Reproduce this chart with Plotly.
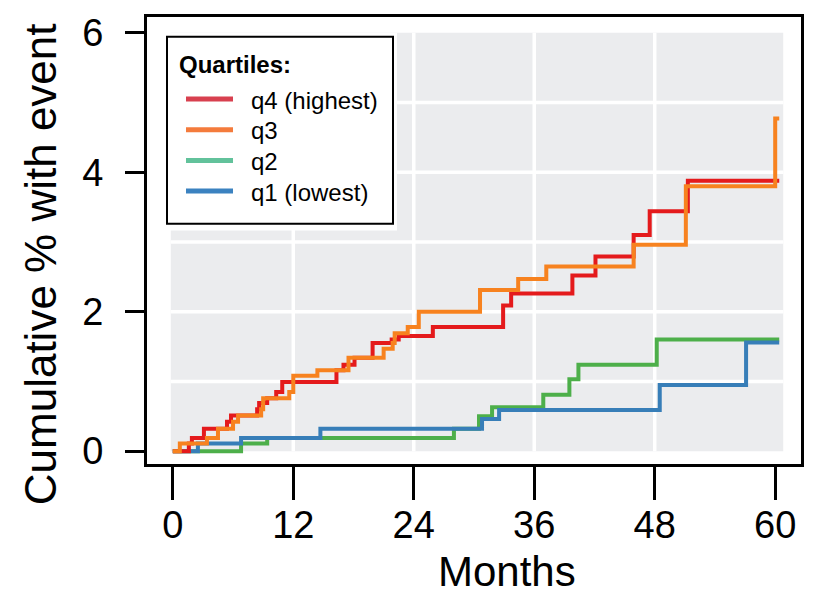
import plotly.graph_objects as go

# Cumulative incidence (%) by quartile, step functions over follow-up months
q4_months = [0, 1.6, 1.9, 3.1, 5.4, 5.8, 8.4, 8.6, 9.4, 10.3, 10.9, 16.3, 17.0, 18.1, 19.9,
             21.8, 22.5, 25.9, 32.9, 33.7, 39.8, 42.1, 45.9, 47.5, 51.3, 60.4]
q4_pct = [0, 0.11, 0.19, 0.32, 0.42, 0.51, 0.60, 0.69, 0.76, 0.85, 0.99, 1.16, 1.24, 1.34, 1.55,
          1.60, 1.65, 1.78, 2.09, 2.26, 2.52, 2.79, 3.10, 3.44, 3.88, 3.88]

q3_months = [0, 0.7, 3.4, 4.5, 6.0, 6.5, 8.8, 9.0, 11.6, 12.0, 14.4, 17.5, 21.0, 21.9, 22.1,
             23.4, 24.5, 30.6, 34.4, 37.2, 45.9, 51.1, 60.0, 60.4]
q3_pct = [0, 0.11, 0.19, 0.32, 0.42, 0.51, 0.60, 0.76, 0.85, 1.08, 1.16, 1.34, 1.47, 1.55, 1.69,
          1.78, 2.00, 2.31, 2.47, 2.65, 2.96, 3.80, 4.77, 4.77]

q2_months = [0, 6.8, 9.4, 28.0, 30.5, 31.8, 36.9, 39.5, 40.4, 48.2, 60.4]
q2_pct = [0, 0.11, 0.19, 0.32, 0.50, 0.63, 0.81, 1.03, 1.24, 1.60, 1.60]

q1_months = [0, 2.5, 6.8, 14.7, 30.8, 32.5, 48.5, 57.1, 60.4]
q1_pct = [0, 0.11, 0.19, 0.32, 0.46, 0.59, 0.95, 1.56, 1.56]

legend_labels = ["q4 (highest)", "q3", "q2", "q1 (lowest)"]
legend_title = "Quartiles:"
x_ticks = [0, 12, 24, 36, 48, 60]
y_ticks = [0, 2, 4, 6]
x_grid = [12, 24, 36, 48]
y_grid = [1, 2, 3, 4, 5]

line_colors = {"q4": "#E41A1C", "q3": "#F7821F", "q2": "#4DAF4A", "q1": "#377EB8"}
key_colors = ["#D8404F", "#F47B3C", "#62C29B", "#3B82C0"]

FONT = "Liberation Sans, Arial, sans-serif"
W, H = 817, 594
L, R, T, B = 147, 801, 12, 464


def px(x):
    return (x - L) / (R - L)


def py(y):
    return (B - y) / (B - T)


fig = go.Figure()

series = [
    ("q2", q2_months, q2_pct),
    ("q1", q1_months, q1_pct),
    ("q4", q4_months, q4_pct),
    ("q3", q3_months, q3_pct),
]
for name, xs, ys in series:
    fig.add_trace(go.Scatter(
        x=xs, y=ys, mode="lines", line=dict(color=line_colors[name], width=4, shape="hv"),
        showlegend=False, hoverinfo="skip",
    ))

shapes = []
# grey panel with white grid
shapes.append(dict(type="rect", xref="x", yref="y", x0=-0.2, x1=60.8, y0=0, y1=6,
                   fillcolor="#EBECEE", line=dict(width=0), layer="below"))
for gx in x_grid:
    shapes.append(dict(type="line", xref="x", yref="y", x0=gx, x1=gx, y0=0, y1=6,
                       line=dict(color="white", width=3.5), layer="below"))
for gy in y_grid:
    shapes.append(dict(type="line", xref="x", yref="y", x0=-0.2, x1=60.8, y0=gy, y1=gy,
                       line=dict(color="white", width=3.5), layer="below"))

# legend box
shapes.append(dict(type="rect", xref="paper", yref="paper", x0=px(163), x1=px(397),
                   y0=py(228), y1=py(28), fillcolor="white", line=dict(width=0), layer="above"))
shapes.append(dict(type="rect", xref="paper", yref="paper", x0=px(167), x1=px(393),
                   y0=py(221), y1=py(32), fillcolor="white",
                   line=dict(color="black", width=2), layer="above"))

annotations = [
    dict(text="<b>" + legend_title + "</b>", xref="paper", yref="paper", x=px(177), y=py(60),
         xanchor="left", yanchor="middle", showarrow=False,
         font=dict(family=FONT, size=24, color="black")),
]
entry_y = [95, 126, 157, 188]
for lbl, c, ey in zip(legend_labels, key_colors, entry_y):
    shapes.append(dict(type="line", xref="paper", yref="paper", x0=px(186), x1=px(233),
                       y0=py(ey), y1=py(ey), line=dict(color=c, width=5), layer="above"))
    annotations.append(dict(text=lbl, xref="paper", yref="paper", x=px(249), y=py(ey + 1),
                            xanchor="left", yanchor="middle", showarrow=False,
                            font=dict(family=FONT, size=24, color="black")))

# axis titles
annotations.append(dict(text="Months", xref="paper", yref="paper", x=px(507), y=py(598),
                        xanchor="center", yanchor="bottom", showarrow=False,
                        font=dict(family=FONT, size=42, color="black")))
annotations.append(dict(text="Cumulative % with event", xref="paper", yref="paper",
                        x=px(40), y=py(262), xanchor="center", yanchor="middle",
                        textangle=-90, showarrow=False,
                        font=dict(family=FONT, size=44, color="black")))

fig.update_layout(
    width=W, height=H,
    margin=dict(l=L, r=W - R, t=T, b=H - B, pad=0),
    paper_bgcolor="white", plot_bgcolor="white",
    shapes=shapes, annotations=annotations,
    font=dict(family=FONT, color="black"),
    showlegend=False,
)
fig.update_xaxes(
    range=[(L - 172.8) / 10.04, (R - 172.8) / 10.04],
    tickmode="array", tickvals=x_ticks, ticktext=[str(v) for v in x_ticks],
    ticks="outside", ticklen=33, tickwidth=3, tickcolor="black",
    tickfont=dict(family=FONT, size=38, color="black"), ticklabelstandoff=-8,
    showline=True, linecolor="black", linewidth=3, mirror=True,
    showgrid=False, zeroline=False,
)
fig.update_yaxes(
    range=[(451 - B) / 70.5, (451 - T) / 70.5],
    tickmode="array", tickvals=y_ticks, ticktext=[str(v) for v in y_ticks],
    ticks="outside", ticklen=19, tickwidth=3, tickcolor="black",
    tickfont=dict(family=FONT, size=38, color="black"), ticklabelstandoff=14,
    showline=True, linecolor="black", linewidth=3, mirror=True,
    showgrid=False, zeroline=False,
)

fig.write_html("out.html")
